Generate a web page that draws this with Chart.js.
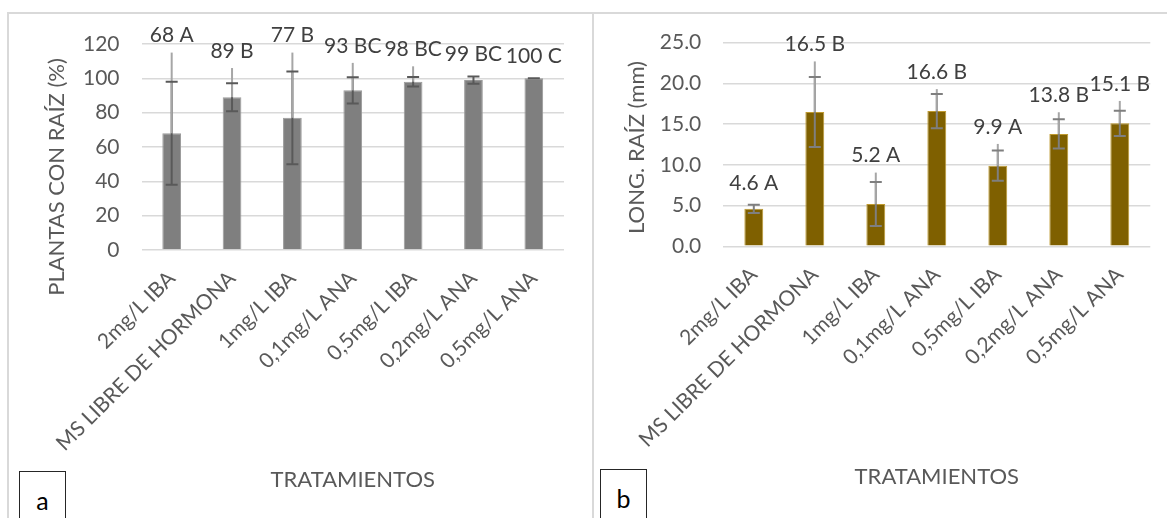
<!DOCTYPE html>
<html>
<head>
<meta charset="utf-8">
<script src="https://cdn.jsdelivr.net/npm/chart.js@4.4.1/dist/chart.umd.min.js"></script>
<style>
    body { margin: 0; background: #fff; font-family: Lato, sans-serif; }
    #page { position: relative; width: 1167px; height: 518px; overflow: hidden; }
    .frame { position: absolute; border-left: 2px solid #d9d9d9; border-top: 2px solid #d9d9d9; }
    .tag { position: absolute; width: 45px; height: 50px; border: 1px solid #262626; background: #fff;
           font-size: 25px; color: #000; text-align: center; line-height: 56px; }
    canvas { position: absolute; top: 0; }
</style>
</head>
<body>
<div id="page">
    <div class="frame" style="left:7px; top:12px; width:590px; height:520px;"></div>
    <div class="frame" style="left:592px; top:12px; width:590px; height:520px;"></div>
    <div class="tag" style="left:19px; top:471px;">a</div>
    <div class="tag" style="left:600px; top:469px;">b</div>
    <canvas id="chartA" width="590" height="518" style="left:0"></canvas>
    <canvas id="chartB" width="587" height="518" style="left:580px"></canvas>
</div>

<script>
const tratamientos = ["2mg/L IBA", "MS LIBRE DE HORMONA", "1mg/L IBA", "0,1mg/L ANA",
                      "0,5mg/L IBA", "0,2mg/L ANA", "0,5mg/L ANA"];

// a: plantas con raiz (%)
const plantas = [68, 89, 77, 93, 98, 99, 100];
const plantasSd = [30, 8.2, 27, 7.6, 2.8, 2.1, 0];
const plantasExt = [47, 17, 38, 16, 9, 0, 0];
const plantasLetras = ["A", "B", "B", "BC", "BC", "BC", "C"];

// b: longitud de raiz (mm)
const longitud = [4.6, 16.5, 5.2, 16.6, 9.9, 13.8, 15.1];
const longitudSd = [0.5, 4.3, 2.7, 2.1, 1.85, 1.8, 1.55];
const longitudExt = [0, 6.2, 3.85, 2.7, 2.67, 2.66, 2.75];
const longitudLetras = ["A", "B", "A", "B", "A", "B", "B"];

const FONT = "Lato";
const GREY_TEXT = "#595959";

// error bars + labels + axis titles
const extras = {
    id: "extras",
    afterDatasetsDraw(chart, args, o) {
        const ctx = chart.ctx;
        const y = chart.scales.y;
        const meta = chart.getDatasetMeta(0);
        const area = chart.chartArea;

        ctx.save();
        o.values.forEach((v, i) => {
            const x = meta.data[i].x;
            const yv = y.getPixelForValue(v);
            const yTop = y.getPixelForValue(v + o.sd[i]);
            const yBot = y.getPixelForValue(v - o.sd[i]);

            ctx.lineWidth = 2;
            ctx.strokeStyle = o.dark;
            ctx.beginPath();
            ctx.moveTo(x, yBot);
            ctx.lineTo(x, yTop);
            ctx.stroke();

            if (o.ext[i] > 0) {
                ctx.strokeStyle = o.light;
                ctx.beginPath();
                ctx.moveTo(x, yv);
                ctx.lineTo(x, y.getPixelForValue(v + o.ext[i]));
                ctx.stroke();
            }

            ctx.strokeStyle = o.dark;
            ctx.beginPath();
            ctx.moveTo(x - 6, yTop); ctx.lineTo(x + 6, yTop);
            ctx.moveTo(x - 6, yBot); ctx.lineTo(x + 6, yBot);
            ctx.stroke();

            const top = Math.max(o.ext[i], o.sd[i]);
            const gap = o.ext[i] > o.sd[i] ? 17 : 22;
            const ly = y.getPixelForValue(v + top) - gap;
            ctx.fillStyle = "#404040";
            ctx.font = "21px " + FONT;
            ctx.textAlign = "center";
            ctx.textBaseline = "middle";
            ctx.fillText(o.fmt(v) + " " + o.letters[i], x, ly);
        });

        ctx.fillStyle = GREY_TEXT;
        ctx.font = "22px " + FONT;
        ctx.textAlign = "center";
        ctx.textBaseline = "middle";
        ctx.fillText("TRATAMIENTOS", (area.left + area.right) / 2, o.xTitleY);

        ctx.translate(o.yTitleX, o.yTitleY);
        ctx.rotate(-Math.PI / 2);
        ctx.fillText(o.yTitle, 0, 0);
        ctx.restore();
    }
};

function makeChart(canvas, cfg) {
    return new Chart(canvas, {
        type: "bar",
        data: {
            labels: tratamientos,
            datasets: [{
                data: cfg.values,
                backgroundColor: cfg.color,
                borderColor: cfg.border,
                borderWidth: 1,
                barPercentage: 1,
                categoryPercentage: 0.31
            }]
        },
        options: {
            responsive: false,
            animation: false,
            layout: { padding: { top: cfg.top, right: cfg.right, left: 0, bottom: 0 } },
            plugins: {
                legend: { display: false },
                tooltip: { enabled: false },
                extras: cfg.extras
            },
            scales: {
                x: {
                    grid: { display: false },
                    border: { display: false },
                    ticks: {
                        minRotation: 45,
                        maxRotation: 45,
                        padding: 8,
                        color: GREY_TEXT,
                        font: { family: FONT, size: 21 }
                    },
                    afterFit: s => { s.height = cfg.xHeight; }
                },
                y: {
                    min: 0,
                    max: cfg.max,
                    grid: { color: "#d9d9d9", lineWidth: 1.5, drawTicks: false },
                    border: { display: false },
                    ticks: {
                        stepSize: cfg.step,
                        padding: 22,
                        color: GREY_TEXT,
                        font: { family: FONT, size: 21 },
                        callback: cfg.tick
                    },
                    afterFit: s => { s.width = cfg.yWidth; }
                }
            }
        },
        plugins: [extras]
    });
}

makeChart(chartA, {
    values: plantas,
    color: "#7f7f7f",
    border: "#9a9a9a",
    max: 120, step: 20,
    tick: v => v,
    top: 44, right: 26, xHeight: 268, yWidth: 141.5,
    extras: {
        values: plantas, sd: plantasSd, ext: plantasExt, letters: plantasLetras,
        fmt: v => String(v),
        dark: "#595959", light: "#a6a6a6",
        yTitle: "PLANTAS CON RAÍZ (%)", yTitleX: 57, yTitleY: 177, xTitleY: 480
    }
});

makeChart(chartB, {
    values: longitud,
    color: "#7f6000",
    border: "#bf9a30",
    max: 25, step: 5,
    tick: v => v.toFixed(1),
    top: 42.7, right: 16.7, xHeight: 271.7, yWidth: 143.3,
    extras: {
        values: longitud, sd: longitudSd, ext: longitudExt, letters: longitudLetras,
        fmt: v => v.toFixed(1),
        dark: "#7f7f7f", light: "#a6a6a6",
        yTitle: "LONG. RAÍZ (mm)", yTitleX: 57, yTitleY: 147.5, xTitleY: 477
    }
});
</script>
</body>
</html>
